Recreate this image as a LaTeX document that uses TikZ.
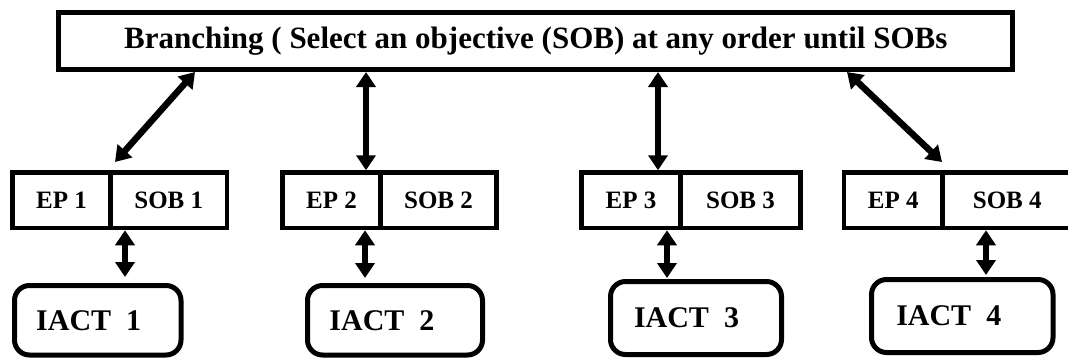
\documentclass[tikz,border=0pt]{standalone}
\usepackage{fontspec}
\setmainfont{Liberation Serif}
\usetikzlibrary{arrows.meta}
\begin{document}
\begin{tikzpicture}[x=1pt,y=-1pt,
  boxline/.style={draw, line width=5pt, inner sep=0pt},
  topbox/.style={boxline, minimum width=954pt, minimum height=57pt, font=\fontsize{31}{31}\selectfont\bfseries},
  cell/.style={boxline, line width=4.5pt, minimum height=55.5pt, font=\fontsize{25}{25}\selectfont\bfseries},
  iact/.style={boxline, rounded corners=15pt, font=\fontsize{30}{30}\selectfont\bfseries},
  tip/.tip={Triangle[width=19pt,length=15pt]},
  arr/.style={line width=6.5pt, tip-tip},
  sarr/.style={line width=6.5pt, tip-tip},
]
\useasboundingbox (0,0) rectangle (1068,360);

% top box
\node[topbox] (top) at (535.75,41) {Branching ( Select an objective (SOB) at any order until SOBs};

% EP / SOB cells
\node[cell, minimum width=98pt]   (ep1)  at (61.5,200.25)   {EP 1};
\node[cell, minimum width=116.5pt] (sob1) at (168.75,200.25) {SOB 1};
\node[cell, minimum width=98pt]   (ep2)  at (331.5,200.25)  {EP 2};
\node[cell, minimum width=116pt]  (sob2) at (438.5,200.25)  {SOB 2};
\node[cell, minimum width=99pt]   (ep3)  at (631,200.25)    {EP 3};
\node[cell, minimum width=120pt]  (sob3) at (740.5,200.25)  {SOB 3};
\node[cell, minimum width=98.5pt] (ep4)  at (893.25,200.25) {EP 4};
\node[cell, minimum width=129.5pt] (sob4) at (1007.25,200.25) {SOB 4};

% IACT boxes
\node[iact, minimum width=166.5pt, minimum height=69.5pt] (iact1) at (97.75,320.25) {IACT\ \ 1\hspace*{18pt}};
\node[iact, minimum width=175pt,   minimum height=69.5pt] (iact2) at (395,320.25)   {IACT\ \ 2\hspace*{26pt}};
\node[iact, minimum width=171pt,   minimum height=73pt]   (iact3) at (696,318)      {IACT\ \ 3\hspace*{19pt}};
\node[iact, minimum width=181.5pt, minimum height=73pt]   (iact4) at (962.25,316)   {IACT\ \ 4\hspace*{27pt}};

% helper coordinates
\coordinate (a1) at (195,0);
\coordinate (a1b) at (115,162);
\coordinate (a2) at (366,0);
\coordinate (a3) at (658,0);
\coordinate (a4) at (847,0);
\coordinate (a4b) at (942,162);
\coordinate (s1) at (125,0);
\coordinate (s2) at (365,0);
\coordinate (s3) at (667,0);
\coordinate (s4) at (986,0);

% top arrows
\draw[arr] (top.south -| a1) -- (a1b);
\draw[arr] (top.south -| a2) -- (ep2.north -| a2);
\draw[arr] (top.south -| a3) -- (ep3.north -| a3);
\draw[arr] (top.south -| a4) -- (a4b);

% small arrows
\draw[sarr, shorten >=6pt] (sob1.south -| s1) -- (iact1.north -| s1);
\draw[sarr, shorten >=5pt] (ep2.south -| s2) -- (iact2.north -| s2);
\draw[sarr, shorten >=1pt] (ep3.south -| s3) -- (iact3.north -| s3);
\draw[sarr, shorten >=2pt] (sob4.south -| s4) -- (iact4.north -| s4);
\end{tikzpicture}
\end{document}
